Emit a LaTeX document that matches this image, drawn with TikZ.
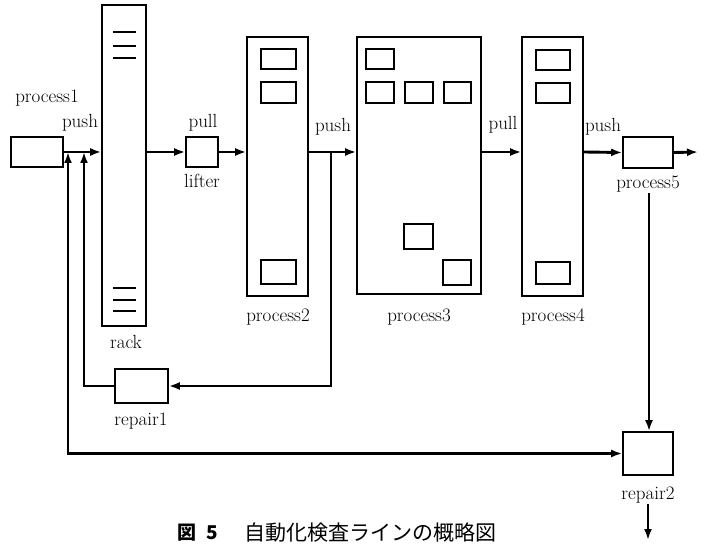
\documentclass[tikz,border=0pt]{standalone}
\usepackage{fontspec}
\newfontfamily\cjk{Noto Sans CJK JP}
\usetikzlibrary{arrows.meta}
\begin{document}
\begin{tikzpicture}[x=1pt,y=-1pt,
  box/.style={draw, line width=1.6pt, inner sep=0pt},
  slot/.style={draw, line width=2pt, inner sep=0pt},
  flow/.style={line width=2.9pt, -{Latex[length=11pt,width=8pt]}},
  both/.style={line width=2.9pt, {Latex[length=11pt,width=8pt]}-{Latex[length=11pt,width=8pt]}},
  rackbar/.style={line width=1.8pt},
  lbl/.style={inner sep=0pt, font=\fontsize{19}{19}\selectfont}]
\useasboundingbox (0,0) rectangle (706,545);
% main boxes
\node[box, minimum width=52pt, minimum height=30pt] (p1) at (37,152) {};
\node[box, minimum width=44pt, minimum height=321pt] (rack) at (124,165.5) {};
\node[box, minimum width=32pt, minimum height=30pt] (lifter) at (202,152) {};
\node[box, minimum width=61pt, minimum height=259pt] (p2) at (277.5,166.5) {};
\node[box, minimum width=124pt, minimum height=257pt] (p3) at (419,165.5) {};
\node[box, minimum width=61pt, minimum height=259pt] (p4) at (552.5,166.5) {};
\node[box, minimum width=50pt, minimum height=31pt] (p5) at (648,152.5) {};
\node[box, minimum width=53pt, minimum height=34pt] (r1) at (141.5,386) {};
\node[box, minimum width=50pt, minimum height=43pt] (r2) at (648,453.5) {};
% rack bars
\foreach \yy in {32,46,58,288,300,311} \draw[rackbar] (113,\yy) -- (136,\yy);
% slots in process2
\node[slot, minimum width=35pt, minimum height=20pt] (s21) at (278.5,59) {};
\node[slot, minimum width=35pt, minimum height=21pt] (s22) at (278.5,92.5) {};
\node[slot, minimum width=35pt, minimum height=24pt] (s23) at (278.5,272) {};
% slots in process3
\node[slot, minimum width=28pt, minimum height=20pt] (s31) at (380,59) {};
\node[slot, minimum width=28pt, minimum height=21pt] (s32) at (380,92.5) {};
\node[slot, minimum width=28pt, minimum height=21pt] (s33) at (419,92.5) {};
\node[slot, minimum width=27pt, minimum height=21pt] (s34) at (457.5,92.5) {};
\node[slot, minimum width=29pt, minimum height=25pt] (s35) at (418.5,236.5) {};
\node[slot, minimum width=28pt, minimum height=25pt] (s36) at (457,272.5) {};
% slots in process4
\node[slot, minimum width=34pt, minimum height=20pt] (s41) at (553,60) {};
\node[slot, minimum width=34pt, minimum height=20pt] (s42) at (553,93) {};
\node[slot, minimum width=34pt, minimum height=22pt] (s43) at (553,273) {};
% labels
\node[lbl] (lp1) at (47,98) {process1};
\node[lbl] (lpush1) at (80,123) {push};
\node[lbl] (lpull1) at (203,123) {pull};
\node[lbl] (llift) at (202,181) {lifter};
\node[lbl] (lpush2) at (333,127) {push};
\node[lbl] (lpull2) at (503,125) {pull};
\node[lbl] (lpush3) at (603,127) {push};
\node[lbl] (lp5) at (648,184) {process5};
\node[lbl] (lp2) at (278,317) {process2};
\node[lbl] (lp3) at (419,317) {process3};
\node[lbl] (lp4) at (553,317) {process4};
\node[lbl] (lrack) at (126,342) {rack};
\node[lbl] (lr1) at (141,421) {repair1};
\node[lbl] (lr2) at (648,495) {repair2};
% coordinates
\coordinate (c68) at (68,152);
\coordinate (c84) at (84,152);
\coordinate (b331) at (331,152);
\coordinate (out5) at (698,152);
\coordinate (d5) at (649,193);
\coordinate (d2) at (648,504);
\coordinate (out2) at (648,540);
% main flow
\draw[flow] (p1.east) -- (p1.east -| rack.west);
\draw[flow] (p1.east -| rack.east) -- (lifter.west);
\draw[flow] (lifter.east) -- (lifter.east -| p2.west);
\draw[flow] (lifter.east -| p2.east) -- (lifter.east -| p3.west);
\draw[flow] (lifter.east -| p3.east) -- (lifter.east -| p4.west);
\draw[flow] (lifter.east -| p4.east) -- (p5.west);
\draw[flow] (p5.east) -- (out5);
\draw[flow] (d5) -- (d5 |- r2.north);
\draw[flow] (d2) -- (out2);
% loops
\draw[flow] (b331) |- (r1.east);
\draw[flow] (r1.west) -| (c84);
\draw[both] (c68) |- (r2.west);
% caption
\node[inner sep=0pt, anchor=west, font=\cjk\bfseries\fontsize{19}{19}\selectfont] (cap1) at (177,533) {図\hspace{10pt}5};
\node[inner sep=0pt, anchor=west, font=\cjk\fontsize{21}{21}\selectfont] (cap2) at (244,533) {自動化検査ラインの概略図};
\end{tikzpicture}
\end{document}
